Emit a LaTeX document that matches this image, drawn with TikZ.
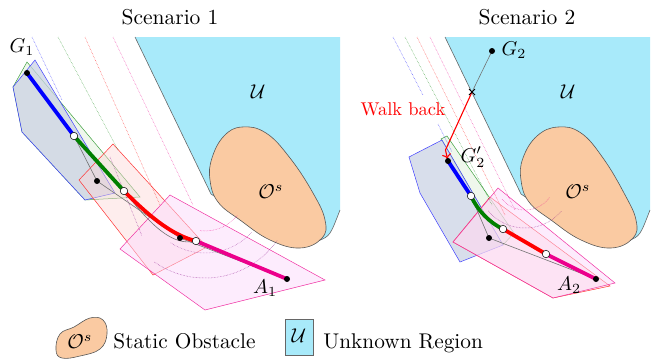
\documentclass[tikz,border=0pt]{standalone}
\usetikzlibrary{arrows.meta}
\definecolor{ucyan}{RGB}{168,234,250}
\definecolor{obst}{RGB}{250,202,162}
\definecolor{bfill}{RGB}{203,211,228}
\definecolor{gfill}{RGB}{214,236,208}
\definecolor{rfill}{RGB}{252,214,214}
\definecolor{mfill}{RGB}{252,218,252}
\definecolor{darkgreen}{RGB}{0,128,0}
\tikzset{
  uline/.style={draw=black!60,line width=0.6pt},
  obstacle/.style={fill=obst,draw=black!65,line width=0.6pt},
  bluepoly/.style={draw=blue!75,fill=bfill,fill opacity=0.75,line width=0.5pt},
  greenpoly/.style={draw=darkgreen!75,fill=gfill,fill opacity=0.4,line width=0.5pt},
  redpoly/.style={draw=red!80,fill=rfill,fill opacity=0.45,line width=0.5pt},
  magpoly/.style={draw=magenta!80,fill=mfill,fill opacity=0.5,line width=0.5pt},
  ray/.style={densely dotted,line width=0.5pt,opacity=0.7},
  traj/.style={line width=3.8pt},
  hull/.style={draw=black!55,line width=0.6pt},
  wpt/.style={circle,fill=white,draw=black,inner sep=0pt,minimum size=7.5pt,line width=0.5pt},
  bdot/.style={circle,fill=black,inner sep=0pt,minimum size=6pt},
  lbl/.style={scale=2.0,inner sep=1pt},
  ttl/.style={scale=2.15,anchor=base,inner sep=0pt},
  legt/.style={scale=2.13,anchor=base west,inner sep=0pt},
}
\begin{document}
\begin{tikzpicture}[x=1pt,y=-1pt]
\useasboundingbox (0,0) rectangle (657,360);

% ---------- Scenario 1 environment ----------
\fill[ucyan] (135,37) -- (211,194) -- (262,228) -- (318,241) .. controls (330,236) .. (340,210) -- (340,37) -- cycle;
\draw[uline] (135,37) -- (211,194) -- (262,228) -- (318,241) .. controls (330,236) .. (340,210);
\draw[obstacle] plot[smooth cycle,tension=0.7] coordinates {(242,127) (266,133) (290,158) (313,193) (325,220) (322,238) (300,248) (270,240) (240,220) (218,202) (210,180) (212,158) (224,136)};

% ---------- Scenario 2 environment ----------
\begin{scope}[xshift=310pt]
\fill[ucyan] (135,37) -- (211,194) -- (262,228) -- (318,241) .. controls (330,236) .. (340,210) -- (340,37) -- cycle;
\draw[uline] (135,37) -- (211,194) -- (262,228) -- (318,241) .. controls (330,236) .. (340,210);
\end{scope}
\begin{scope}[xshift=311pt]
\draw[obstacle] plot[smooth cycle,tension=0.7] coordinates {(247,127) (270,133) (292,158) (313,193) (325,220) (322,238) (300,248) (270,240) (240,220) (218,202) (210,180) (212,158) (226,136)};
\end{scope}

% ---------- Scenario 1 regions ----------
\draw[greenpoly] (27,62) -- (13,87) -- (22,132) -- (85,200) -- (140,197) -- cycle;
\draw[bluepoly] (35,60) -- (13,87) -- (22,132) -- (85,200) -- (115,193) -- cycle;
\draw[redpoly] (113,144) -- (79,180) -- (153,275) -- (207,247) -- cycle;
\draw[magpoly] (170,195) -- (120,249) -- (205,310) -- (325,280) -- cycle;

\draw[ray,blue] (32,37) -- (62,100);
\draw[ray,darkgreen] (58,37) -- (118,150);
\draw[ray,red] (85,37) -- (160,205);
\draw[ray,magenta] (113,37) -- (193,205);
\draw[ray,violet] (110,157) -- (142,236);
\draw[ray,magenta] (205,190) ++(97:41) arc[start angle=97,end angle=38,radius=41];
\draw[ray,violet!80] (205,190) ++(123:63) arc[start angle=123,end angle=42,radius=63];
\draw[ray,violet] (205,190) ++(125:88) arc[start angle=125,end angle=35,radius=88];

% ---------- Scenario 2 regions ----------
\draw[greenpoly] (441,139) -- (447,136) -- (514,233) -- (503,245) -- cycle;
\draw[bluepoly] (442,140) -- (409,157) -- (420,193) -- (460,262) -- (503,245) -- cycle;
\draw[redpoly] (453,242) -- (490,197) -- (610,286) -- (553,298) -- cycle;
\draw[magpoly] (453,242) -- (498,188) -- (615,283) -- (553,298) -- cycle;

\draw[ray,blue] (393,37) -- (423,95);
\draw[ray,blue] (438,124) -- (452,152);
\draw[ray,darkgreen] (405,37) -- (492,205);
\draw[ray,red] (417,37) -- (505,215);
\draw[ray,magenta] (430,37) -- (515,210);
\draw[ray,magenta] (525,180) ++(140:30) arc[start angle=140,end angle=35,radius=30];
\draw[ray,violet] (525,180) ++(140:48) arc[start angle=140,end angle=40,radius=48];

% ---------- Scenario 1 trajectory ----------
\coordinate (g1) at (27,73);
\coordinate (p1) at (74,136);
\coordinate (p2) at (124,191);
\coordinate (p3) at (196,241);
\coordinate (a1) at (287,279);
\coordinate (c1) at (97,181);
\coordinate (c2) at (180,238);
\draw[hull] (g1) -- (p1) -- (c1) -- (c2) -- (a1);
\draw[hull] (p2) .. controls (150,224) and (172,247) .. (p3);
\draw[traj,blue] (g1) -- (p1);
\draw[traj,darkgreen] (p1) -- (p2);
\draw[traj,red] (p2) .. controls (145,212) and (170,235) .. (p3);
\draw[traj,magenta] (p3) -- (a1);
\node[bdot] (ng1) at (g1) {};
\node[bdot] (na1) at (a1) {};
\node[bdot] (nc1) at (c1) {};
\node[bdot] (nc2) at (c2) {};
\node[wpt] (np1) at (p1) {};
\node[wpt] (np2) at (p2) {};
\node[wpt] (np3) at (p3) {};

% ---------- Scenario 2 trajectory ----------
\coordinate (g2) at (492,51);
\coordinate (x2) at (472,92);
\coordinate (g2p) at (448,161);
\coordinate (q1) at (471,196);
\coordinate (q2) at (503,229);
\coordinate (q3) at (546,254);
\coordinate (a2) at (596,279);
\coordinate (d1) at (489,238);
\draw[hull] (g2) -- (x2);
\draw[hull] (g2p) -- (q1) -- (d1) -- (a2);
\draw[traj,blue] (g2p) -- (q1);
\draw[traj,darkgreen] (q1) .. controls (478,211) and (490,223) .. (q2);
\draw[traj,red] (q2) -- (q3);
\draw[traj,magenta] (q3) -- (a2);
\draw[red,line width=1.1pt,-{To[length=5pt,width=9pt]}] (x2) -- (445.5,150) -- (447.5,159);
\draw[line width=0.8pt] (469,89) -- (475,95) (469,95) -- (475,89);
\node[bdot] (ng2) at (g2) {};
\node[bdot] (ng2p) at (g2p) {};
\node[bdot] (na2) at (a2) {};
\node[bdot] (nd1) at (d1) {};
\node[wpt] (nq1) at (q1) {};
\node[wpt] (nq2) at (q2) {};
\node[wpt] (nq3) at (q3) {};

% ---------- labels ----------
\node[ttl] (t1) at (170,24) {Scenario 1};
\node[ttl] (t2) at (527,24) {Scenario 2};
\node[lbl] (lu1) at (258,92) {$\mathcal{U}$};
\node[lbl] (lu2) at (568,92) {$\mathcal{U}$};
\node[lbl] (lo1) at (271,192) {$\mathcal{O}^s$};
\node[lbl] (lo2) at (578,192) {$\mathcal{O}^s$};
\node[lbl] (lg1) at (22,47) {$G_1$};
\node[lbl] (la1) at (265,288) {$A_1$};
\node[lbl] (lg2) at (514,50) {$G_2$};
\node[lbl] (lg2p) at (473,157) {$G'_2$};
\node[lbl] (la2) at (569,285) {$A_2$};
\node[scale=1.85,text=red] (wb) at (403,109) {Walk back};

% ---------- legend ----------
\draw[obstacle] plot[smooth cycle,tension=0.7] coordinates {(56,350) (60,334) (74,327) (90,318) (103,320) (107,334) (100,349) (80,356) (62,358)};
\node[lbl] (lego) at (80,342) {$\mathcal{O}^s$};
\node[legt] (legot) at (113,348) {Static Obstacle};
\draw[fill=ucyan,draw=black!60,line width=0.6pt] (285,319) rectangle (313,355);
\node[lbl] (legu) at (299,336) {$\mathcal{U}$};
\node[legt] (legut) at (323,348) {Unknown Region};
\end{tikzpicture}
\end{document}
